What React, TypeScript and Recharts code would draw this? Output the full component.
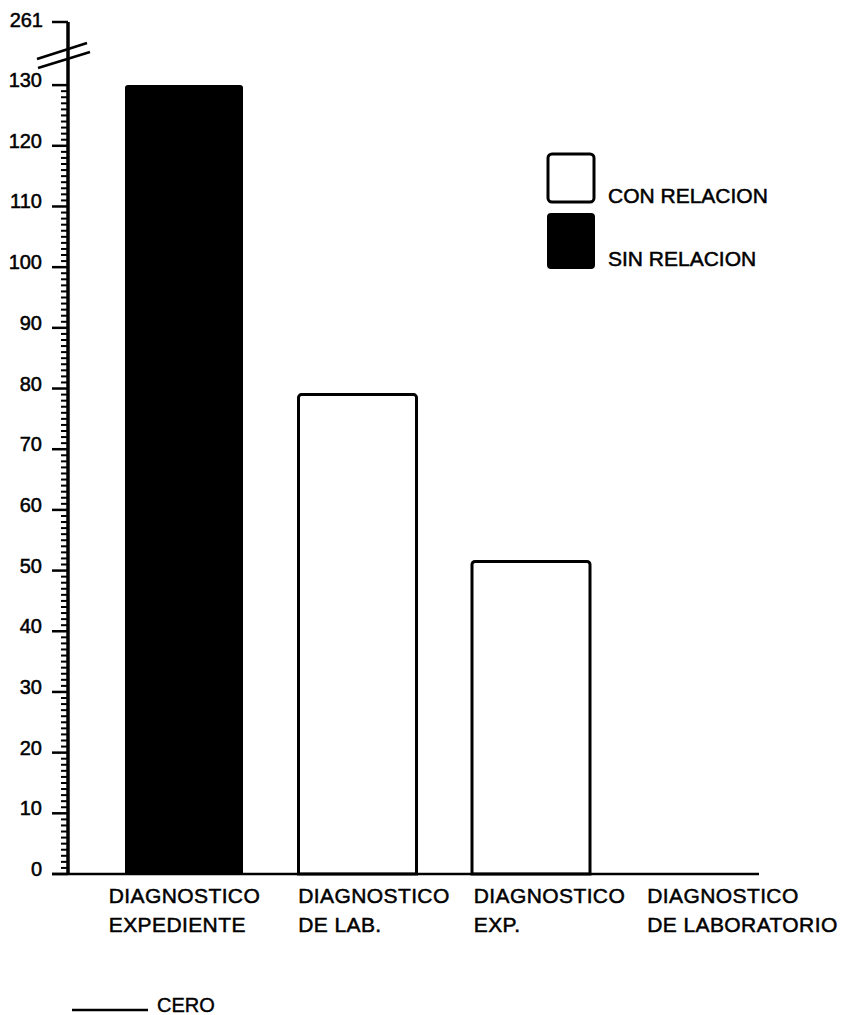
import { BarChart, Bar, XAxis, YAxis, Cell } from 'recharts';

const categories = [
  ['DIAGNOSTICO', 'EXPEDIENTE'],
  ['DIAGNOSTICO', 'DE LAB.'],
  ['DIAGNOSTICO', 'EXP.'],
  ['DIAGNOSTICO', 'DE LABORATORIO'],
];
const values = [261, 79, 51.5, 0];
const relation = ['sin', 'con', 'con', 'con'];

const yMajorTicks = [0, 10, 20, 30, 40, 50, 60, 70, 80, 90, 100, 110, 120, 130];
const BREAK_AT = 130;
const BREAK_LABEL = 261;
const Y_TOP = 140.4; // space above the break, labelled 261

const FONT = '"Liberation Sans", Arial, sans-serif';
const LABEL_SHIFT = [-75, -59, -57, -57];

const data = categories.map((c, i) => ({
  name: c.join(' '),
  value: values[i],
  plotted: Math.min(values[i], BREAK_AT),
}));

const yTicks: number[] = [];
for (let v = 0; v <= BREAK_AT; v++) yTicks.push(v);
yTicks.push(Y_TOP);

function YTick(props: any) {
  const { x, y, payload } = props;
  const v = payload.value;
  if (v === Y_TOP) {
    return (
      <g>
        <line x1={x - 16} x2={x} y1={y} y2={y} stroke="#000" strokeWidth={2.5} />
        <text x={x - 25} y={y + 5} textAnchor="end" fontSize={20} fontFamily={FONT} fill="#000" stroke="#000" strokeWidth={0.5}>
          {BREAK_LABEL}
        </text>
      </g>
    );
  }
  if (yMajorTicks.includes(v)) {
    return (
      <g>
        <line x1={x - 16} x2={x} y1={y} y2={y} stroke="#000" strokeWidth={2.5} />
        <text x={x - 26} y={y + 2} textAnchor="end" fontSize={20} fontFamily={FONT} fill="#000" stroke="#000" strokeWidth={0.5}>
          {v}
        </text>
      </g>
    );
  }
  return <line x1={x - 7} x2={x} y1={y} y2={y} stroke="#000" strokeWidth={2} />;
}

function XTick(props: any) {
  const { x, y, index } = props;
  const lines = categories[index];
  const tx = x + LABEL_SHIFT[index];
  return (
    <text x={tx} y={y} textAnchor="start" fontSize={21} fontFamily={FONT} fill="#000" stroke="#000" strokeWidth={0.5} letterSpacing={0.4}>
      <tspan x={tx} dy={29}>{lines[0]}</tspan>
      <tspan x={tx} dy={29}>{lines[1]}</tspan>
    </text>
  );
}

export default function App() {
  return (
    <div style={{ position: 'absolute', left: 0, top: 0, width: 856, height: 1015, background: '#fff' }}>
      <BarChart
        width={856}
        height={1015}
        data={data}
        margin={{ top: 22, right: 65, bottom: 81, left: 0 }}
        barSize={118}
      >
        <XAxis
          dataKey="name"
          axisLine={false}
          tickLine={false}
          tickSize={0}
          tickMargin={0}
          height={60}
          interval={0}
          padding={{ left: 29, right: 0 }}
          tick={<XTick />}
        />
        <YAxis
          width={68}
          domain={[0, Y_TOP]}
          ticks={yTicks}
          interval={0}
          tickSize={0}
          tickMargin={0}
          tickLine={false}
          axisLine={{ stroke: '#000', strokeWidth: 3.5 }}
          tick={<YTick />}
        />
        <Bar dataKey="plotted" isAnimationActive={false} radius={[3, 3, 0, 0]}>
          {data.map((d, i) => (
            <Cell
              key={d.name}
              fill={relation[i] === 'sin' ? '#000' : '#fff'}
              stroke="#000"
              strokeWidth={relation[i] === 'sin' ? 0 : 3}
            />
          ))}
        </Bar>
      </BarChart>
      <svg
        width={856}
        height={1015}
        style={{ position: 'absolute', left: 0, top: 0, pointerEvents: 'none' }}
      >
        {/* axis break */}
        <line x1={37} y1={59} x2={87} y2={43} stroke="#000" strokeWidth={2.5} />
        <line x1={38} y1={68} x2={90} y2={52} stroke="#000" strokeWidth={2.5} />
        {/* baseline */}
        <line x1={52} y1={874} x2={759} y2={874} stroke="#000" strokeWidth={2.5} />
        {/* legend */}
        <rect x={548} y={154} width={46} height={48} rx={4} fill="#fff" stroke="#000" strokeWidth={3} />
        <text x={608} y={203} fontSize={21} fontFamily={FONT} fill="#000" stroke="#000" strokeWidth={0.5}>CON RELACION</text>
        <rect x={547} y={213} width={48} height={56} rx={4} fill="#000" />
        <text x={608} y={266} fontSize={21} fontFamily={FONT} fill="#000" stroke="#000" strokeWidth={0.5}>SIN RELACION</text>
        <line x1={72} y1={1010} x2={148} y2={1010} stroke="#000" strokeWidth={2.5} />
        <text x={157} y={1012} fontSize={20} fontFamily={FONT} fill="#000" stroke="#000" strokeWidth={0.4}>CERO</text>
      </svg>
    </div>
  );
}
